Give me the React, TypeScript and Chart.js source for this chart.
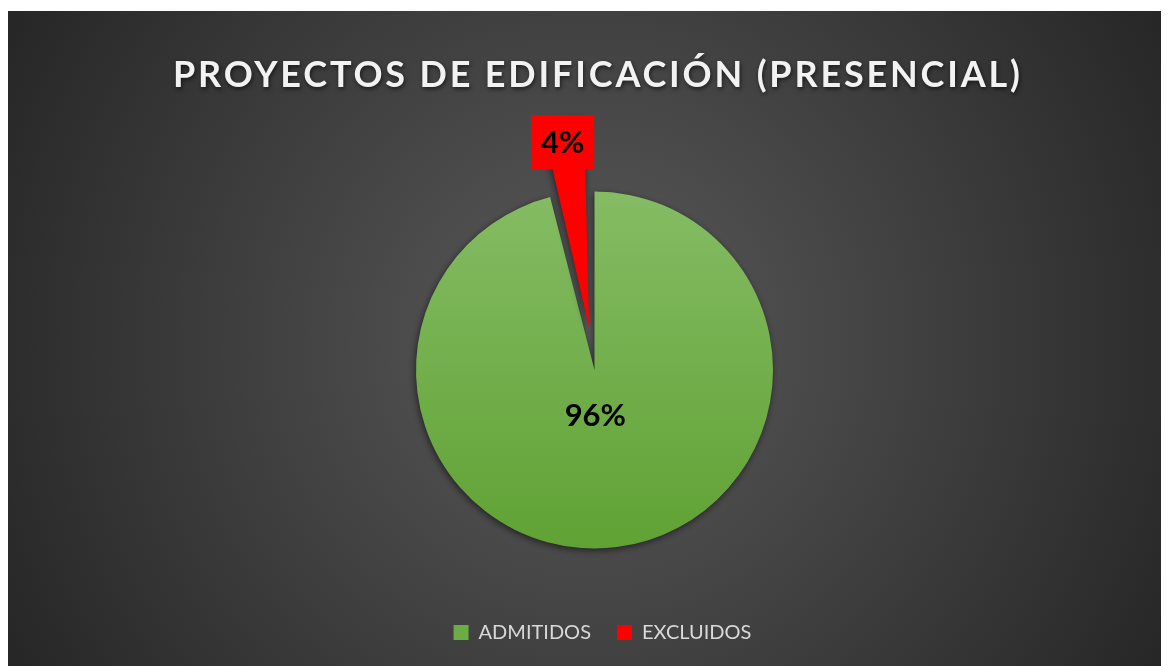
import React, { useEffect, useRef } from "react";
import { Chart, registerables } from "chart.js";

Chart.register(...registerables);

const title = "PROYECTOS DE EDIFICACIÓN (PRESENCIAL)";
const categories = ["ADMITIDOS", "EXCLUIDOS"];
const values = [96, 4];
// Chart.js arcs move by offset / 4
const sliceOffsets = [0, 172];
const redColor = "#ff0000";
const greenTop = "#85bc64";
const greenBottom = "#60a234";
const legendGreen = "#6cac45";

const W = 1161;
const H = 655;
const PIE_R = 178.5;

const bgPlugin = {
  id: "bg",
  beforeDraw(chart: any) {
    const { ctx, width, height } = chart;
    ctx.save();
    const cx = width / 2;
    const cy = height / 2;
    const g = ctx.createRadialGradient(cx, cy, 0, cx, cy, Math.hypot(cx, cy));
    g.addColorStop(0, "#5a5a5a");
    g.addColorStop(1, "#262626");
    ctx.fillStyle = g;
    ctx.fillRect(0, 0, width, height);
    ctx.restore();
  },
};

const legendShiftPlugin = {
  id: "legendShift",
  afterLayout(chart: any) {
    const l = chart.legend;
    if (l) {
      l.left += 8;
      l.right += 8;
    }
  },
};

const titlePlugin = {
  id: "customTitle",
  afterDraw(chart: any) {
    const { ctx } = chart;
    ctx.save();
    ctx.font = "bold 36px Lato";
    (ctx as any).letterSpacing = "0px";
    const w0 = ctx.measureText(title).width;
    const target = 847;
    const s = (target - w0) / (title.length - 1);
    (ctx as any).letterSpacing = `${s}px`;
    ctx.textAlign = "left";
    ctx.textBaseline = "alphabetic";
    ctx.shadowColor = "rgba(0,0,0,0.6)";
    ctx.shadowBlur = 4;
    ctx.shadowOffsetX = 1;
    ctx.shadowOffsetY = 2;
    ctx.fillStyle = "#f2f2f2";
    ctx.fillText(title, 165, 76);
    ctx.restore();
  },
};

const shadowPlugin = {
  id: "arcShadow",
  beforeDatasetsDraw(chart: any) {
    const { ctx } = chart;
    ctx.save();
    ctx.shadowColor = "rgba(0,0,0,0.55)";
    ctx.shadowBlur = 7;
    ctx.shadowOffsetX = -1;
    ctx.shadowOffsetY = 2;
  },
  afterDatasetsDraw(chart: any) {
    chart.ctx.restore();
  },
};

const labelPlugin = {
  id: "pctLabels",
  afterDatasetsDraw(chart: any) {
    const { ctx } = chart;
    const meta = chart.getDatasetMeta(0);
    const total = values.reduce((a, b) => a + b, 0);
    ctx.save();
    ctx.font = "bold 31px Lato";
    ctx.textAlign = "center";
    ctx.textBaseline = "middle";
    meta.data.forEach((arc: any, i: number) => {
      const p = arc.getProps(["x", "y", "startAngle", "endAngle", "outerRadius"], true);
      const mid = (p.startAngle + p.endAngle) / 2;
      const dx = Math.cos(mid);
      const dy = Math.sin(mid);
      const text = Math.round((values[i] / total) * 100) + "%";
      if (i === 0) {
        const d = p.outerRadius * 0.26;
        ctx.fillStyle = "#000000";
        ctx.fillText(text, p.x + dx * d - 5, p.y + dy * d);
      } else {
        const d = p.outerRadius + sliceOffsets[i] / 4 + 8;
        const lx = p.x + dx * d - 3;
        const ly = p.y + dy * d;
        ctx.fillStyle = redColor;
        ctx.fillRect(lx - 31.5, ly - 27, 63, 54);
        ctx.fillStyle = "#000000";
        ctx.fillText(text, lx, ly + 1);
      }
    });
    ctx.restore();
  },
};

export default function App() {
  const ref = useRef<HTMLCanvasElement | null>(null);
  useEffect(() => {
    if (!ref.current) return;
    const chart = new Chart(ref.current, {
      type: "pie",
      data: {
        labels: categories,
        datasets: [
          {
            data: values,
            offset: sliceOffsets,
            borderWidth: 0,
            clip: false as any,
            backgroundColor: (c: any) => {
              if (c.dataIndex === 1) return redColor;
              const area = c.chart.chartArea;
              if (!area) return legendGreen;
              const cy = (area.top + area.bottom) / 2;
              const g = c.chart.ctx.createLinearGradient(0, cy - PIE_R, 0, cy + PIE_R);
              g.addColorStop(0, greenTop);
              g.addColorStop(1, greenBottom);
              return g;
            },
          } as any,
        ],
      },
      options: {
        responsive: false,
        devicePixelRatio: 1,
        animation: false,
        radius: PIE_R,
        layout: { padding: { top: 132.5, bottom: 13.5, left: 12, right: 0 } },
        plugins: {
          title: { display: false },
          tooltip: { enabled: false },
          legend: {
            display: true,
            position: "bottom",
            labels: {
              boxWidth: 15,
              boxHeight: 15,
              padding: 26,
              color: "#d9d9d9",
              font: { family: "Lato", size: 20 },
              generateLabels: () =>
                categories.map((t, i) => ({
                  text: t,
                  fillStyle: i === 0 ? legendGreen : redColor,
                  strokeStyle: "rgba(0,0,0,0)",
                  lineWidth: 0,
                  fontColor: "#d9d9d9",
                  hidden: false,
                  index: i,
                })),
            },
          },
        },
      } as any,
      plugins: [bgPlugin, legendShiftPlugin, shadowPlugin, labelPlugin, titlePlugin],
    });
    return () => chart.destroy();
  }, []);
  return (
    <div style={{ paddingTop: 3 }}>
      <canvas ref={ref} width={W} height={H} style={{ display: "block", width: W, height: H }} />
    </div>
  );
}
